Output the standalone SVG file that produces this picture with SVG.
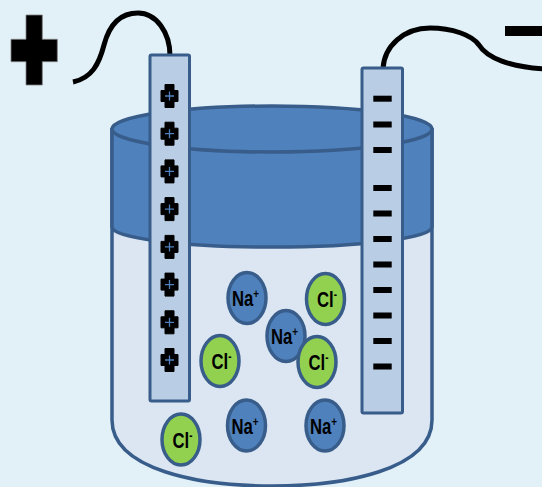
<svg xmlns="http://www.w3.org/2000/svg" width="542" height="487" viewBox="0 0 542 487">
  <style>
    .edge { stroke: #385d8a; stroke-width: 3.5; stroke-linejoin: round; }
    .wire { fill: none; stroke: #000; stroke-width: 5; stroke-linecap: butt; }
    .electrode { fill: #b9cde5; stroke: #385d8a; stroke-width: 3; }
    .na { fill: #4f81bd; stroke: #385d8a; stroke-width: 3.5; }
    .cl { fill: #92d050; stroke: #385d8a; stroke-width: 3.5; }
    .ion-label { font-family: "Liberation Sans", Arial, sans-serif; font-size: 22px; font-weight: bold; fill: #000; text-anchor: middle; }
    .sup { font-size: 13px; }
    .pos-mark { fill: #000; stroke: #000; stroke-width: 1; stroke-linejoin: round; }
    .pos-core { fill: none; stroke: #4f81bd; stroke-width: 1.3; }
    .neg-mark { fill: #000; }
  </style>
  <defs>
    <!-- small charge marker for the positive plate -->
    <g id="plus-mark">
      <path class="pos-mark" d="M-4.5,-11.5 H4.5 V-5.5 H8.5 V5.5 H4.5 V11.5 H-4.5 V5.5 H-8.5 V-5.5 H-4.5 Z"/>
      <path class="pos-core" d="M-4.5,0 H4.5 M0,-4.5 V4.5"/>
    </g>
    <rect id="minus-mark" class="neg-mark" x="-9.2" y="-3" width="18.4" height="6"/>
  </defs>

  <!-- backdrop -->
  <rect width="542" height="487" fill="#e2f0f7"/>

  <!-- terminal signs -->
  <g id="terminal-positive">
    <path d="M26,15 H42.3 V39.3 H57.3 V61.7 H42.3 V85 H26 V61.7 H11 V39.3 H26 Z" fill="#000" stroke="#7f7f7f" stroke-width="0.8"/>
  </g>
  <g id="terminal-negative">
    <rect x="505" y="26" width="40" height="10" fill="#000"/>
  </g>

  <!-- beaker -->
  <g id="beaker">
    <path class="edge" fill="#dce6f2" d="M112,129 V420 C112,470 200,486 272,486 C344,486 432,470 432,420 V129 Z"/>
    <path class="edge" fill="#4f81bd" d="M112,129 V227 A160,20 0 0 0 432,227 V129 Z"/>
    <ellipse class="edge" fill="#4f81bd" cx="272" cy="129" rx="160" ry="23"/>
  </g>

  <!-- wires -->
  <g id="connectors">
    <path class="wire" d="M73,82 C92,78 99,64 104,45 C110,22 122,13 138,13 C156,13 170,32 170,56"/>
    <path class="wire" d="M383,69 C384,46 404,28 430,28 C452,28 472,35 479,45 C487,58 510,67 545,69"/>
  </g>

  <!-- ions -->
  <g id="ion-na-1">
    <ellipse class="na" cx="247" cy="298" rx="19" ry="25.5"/>
    <text class="ion-label" transform="translate(245.5,306) scale(0.76,1)">Na<tspan class="sup" dy="-8">+</tspan></text>
  </g>
  <g id="ion-cl-1">
    <ellipse class="cl" cx="325.5" cy="299" rx="19" ry="25.5"/>
    <text class="ion-label" transform="translate(327,307) scale(0.76,1)">Cl<tspan class="sup" dy="-8">-</tspan></text>
  </g>
  <g id="ion-na-2">
    <ellipse class="na" cx="286" cy="336" rx="19" ry="25.5"/>
    <text class="ion-label" transform="translate(284.5,344) scale(0.76,1)">Na<tspan class="sup" dy="-8">+</tspan></text>
  </g>
  <g id="ion-cl-2">
    <ellipse class="cl" cx="317" cy="362" rx="19" ry="25.5"/>
    <text class="ion-label" transform="translate(318.5,370) scale(0.76,1)">Cl<tspan class="sup" dy="-8">-</tspan></text>
  </g>
  <g id="ion-cl-3">
    <ellipse class="cl" cx="220" cy="361" rx="19" ry="25.5"/>
    <text class="ion-label" transform="translate(221.5,369) scale(0.76,1)">Cl<tspan class="sup" dy="-8">-</tspan></text>
  </g>
  <g id="ion-cl-4">
    <ellipse class="cl" cx="181" cy="439.5" rx="19" ry="25.5"/>
    <text class="ion-label" transform="translate(182.5,447.5) scale(0.76,1)">Cl<tspan class="sup" dy="-8">-</tspan></text>
  </g>
  <g id="ion-na-3">
    <ellipse class="na" cx="246.5" cy="425.5" rx="19" ry="25.5"/>
    <text class="ion-label" transform="translate(245,433.5) scale(0.76,1)">Na<tspan class="sup" dy="-8">+</tspan></text>
  </g>
  <g id="ion-na-4">
    <ellipse class="na" cx="325" cy="425.5" rx="19" ry="25.5"/>
    <text class="ion-label" transform="translate(323.5,433.5) scale(0.76,1)">Na<tspan class="sup" dy="-8">+</tspan></text>
  </g>

  <!-- positive plate -->
  <g id="electrode-positive">
    <rect class="electrode" x="150" y="55" width="39.5" height="346" rx="1.5"/>
    <use href="#plus-mark" x="169.5" y="96"/>
    <use href="#plus-mark" x="169.5" y="133.7"/>
    <use href="#plus-mark" x="169.5" y="171.4"/>
    <use href="#plus-mark" x="169.5" y="209.1"/>
    <use href="#plus-mark" x="169.5" y="246.9"/>
    <use href="#plus-mark" x="169.5" y="284.6"/>
    <use href="#plus-mark" x="169.5" y="322.3"/>
    <use href="#plus-mark" x="169.5" y="360"/>
  </g>

  <!-- negative plate -->
  <g id="electrode-negative">
    <rect class="electrode" x="362" y="68" width="40.5" height="345" rx="1.5"/>
    <use href="#minus-mark" x="382.5" y="98.7"/>
    <use href="#minus-mark" x="382.5" y="124.5"/>
    <use href="#minus-mark" x="382.5" y="150"/>
    <use href="#minus-mark" x="382.5" y="188"/>
    <use href="#minus-mark" x="382.5" y="213.5"/>
    <use href="#minus-mark" x="382.5" y="239"/>
    <use href="#minus-mark" x="382.5" y="264.5"/>
    <use href="#minus-mark" x="382.5" y="290"/>
    <use href="#minus-mark" x="382.5" y="315.5"/>
    <use href="#minus-mark" x="382.5" y="341"/>
    <use href="#minus-mark" x="382.5" y="366.5"/>
  </g>
</svg>
